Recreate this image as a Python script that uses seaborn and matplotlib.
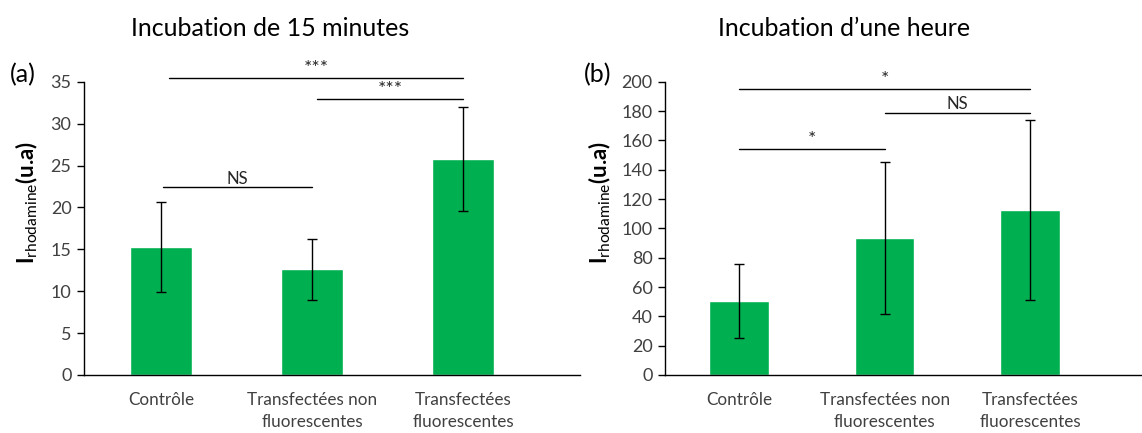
import matplotlib
matplotlib.use("Agg")
import matplotlib.pyplot as plt
import pandas as pd
import seaborn as sns

# data
categories = ["Contrôle", "Transfectées non\nfluorescentes", "Transfectées\nfluorescentes"]
means_15min = [15.25, 12.6, 25.8]
sd_15min = [5.4, 3.65, 6.2]
means_1h = [50.6, 93.3, 112.8]
sd_1h = [25.3, 51.8, 61.5]

# significance brackets: (start cat, end cat, height, label)
sig_15min = [(0.05, 2.0, 35.5, "***"), (1.03, 2.0, 33.0, "***"), (0.01, 1.0, 22.4, "NS")]
sig_1h = [(0.0, 2.0, 195, "*"), (1.0, 2.0, 178.8, "NS"), (0.0, 1.0, 154, "*")]

sns.set_style("white")
plt.rcParams['font.family'] = ['Lato', 'DejaVu Sans']
plt.rcParams['mathtext.fontset'] = 'custom'
plt.rcParams['mathtext.rm'] = 'Lato'
plt.rcParams['mathtext.bf'] = 'Lato:bold'

GREEN = '#00B050'
TXT = '#404040'

fig = plt.figure(figsize=(11.42, 4.33), dpi=100)
ax1 = fig.add_axes([0.0736, 0.134, 0.434, 0.677])
ax2 = fig.add_axes([0.5823, 0.134, 0.4177, 0.677])


def draw_panel(ax, means, sds, sigs, ylim, step, letter, title, label_x, letter_x, sig_pad):
    df = pd.DataFrame({'cat': categories, 'val': means})
    sns.barplot(data=df, x='cat', y='val', color=GREEN, saturation=1, width=0.41,
                errorbar=None, ax=ax)
    ax.errorbar(range(len(means)), means, yerr=sds, fmt='none', ecolor='black',
                elinewidth=1, capsize=3.5, capthick=1)
    for x1, x2, h, lab in sigs:
        ax.plot([x1, x2], [h, h], color='black', lw=1, clip_on=False)
        star = lab.startswith('*')
        ax.text((x1 + x2) / 2, h + sig_pad, lab, ha='center', va='bottom',
                fontsize=14 if star else 12, color='#262626', clip_on=False)
    ax.set_ylim(*ylim)
    ax.set_yticks(range(ylim[0], ylim[1] + 1, step))
    ax.set_xlim(-0.51, 2.77)
    ax.set_xlabel('')
    ax.set_ylabel(r'$\mathbf{I}_{\mathrm{rhodamine}}$(u.a)', fontsize=16, fontweight='bold',
                  color='black')
    ax.yaxis.set_label_coords(label_x, 0.59)
    for s in ['top', 'right']:
        ax.spines[s].set_visible(False)
    for s in ['left', 'bottom']:
        ax.spines[s].set_color('black')
        ax.spines[s].set_linewidth(1)
    ax.tick_params(axis='y', direction='out', length=5, width=1, colors='black',
                   labelcolor=TXT, labelsize=13, pad=4, left=True)
    ax.tick_params(axis='x', length=0, labelcolor=TXT, labelsize=12.3, pad=12)
    for lab in ax.get_xticklabels():
        lab.set_linespacing(1.5)
    ax.text(letter_x, 1.025, letter, transform=ax.transAxes,
            fontsize=18, ha='left', va='center', color='black')
    ax.set_title(title, fontsize=18, pad=33, color='black', x=0.376)


draw_panel(ax1, means_15min, sd_15min, sig_15min, (0, 35), 5, '(a)',
           'Incubation de 15 minutes', -0.089, -0.15, 0.1)
draw_panel(ax2, means_1h, sd_1h, sig_1h, (0, 200), 20, '(b)',
           'Incubation d\u2019une heure', -0.109, -0.17, 0.8)

plt.savefig('out.png', dpi=100)
